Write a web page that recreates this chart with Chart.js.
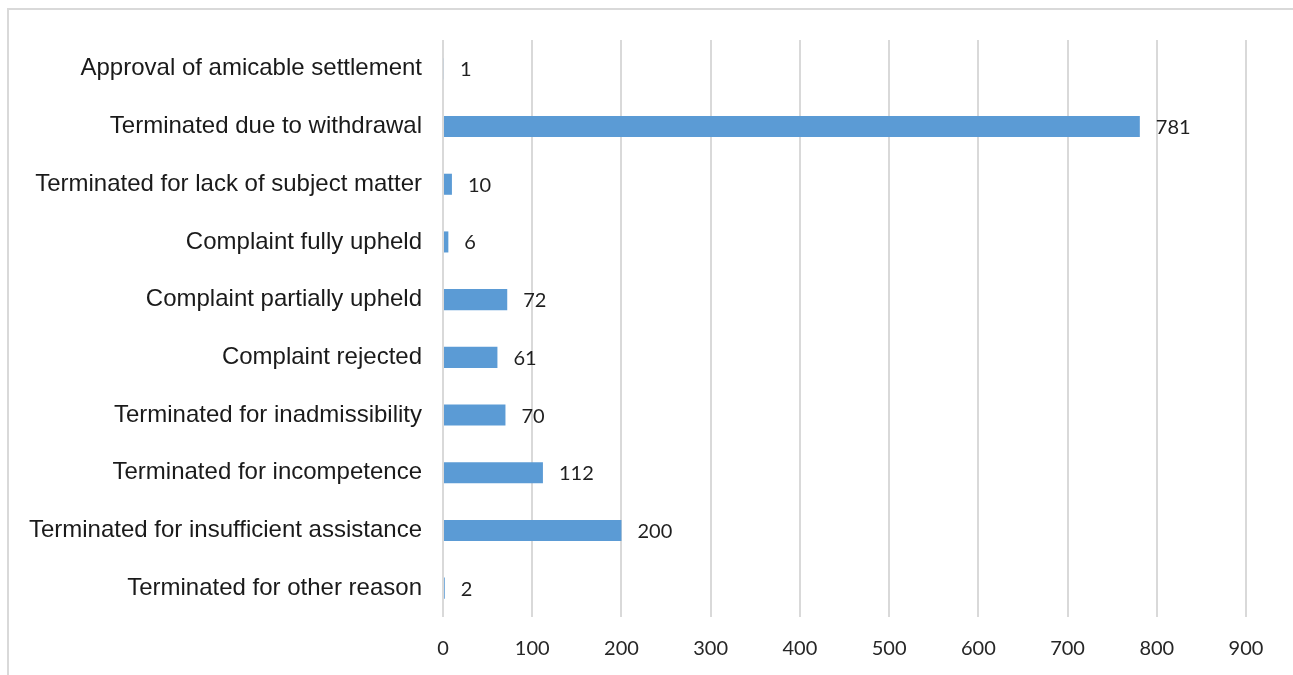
<!DOCTYPE html>
<html>
<head>
<meta charset="utf-8">
<script src="https://cdn.jsdelivr.net/npm/chart.js@4/dist/chart.umd.min.js"></script>
<style>
html,body{margin:0;padding:0;background:#fff;}
#wrap{position:relative;width:1293px;height:675px;}
</style>
</head>
<body>
<div id="wrap"><canvas id="c" width="1293" height="675"></canvas></div>
<script>
const categories = [
  "Approval of amicable settlement",
  "Terminated due to withdrawal",
  "Terminated for lack of subject matter",
  "Complaint fully upheld",
  "Complaint partially upheld",
  "Complaint rejected",
  "Terminated for inadmissibility",
  "Terminated for incompetence",
  "Terminated for insufficient assistance",
  "Terminated for other reason"
];
const values = [1, 781, 10, 6, 72, 61, 70, 112, 200, 2];
const xTicks = [0, 100, 200, 300, 400, 500, 600, 700, 800, 900];

const frame = {
  id: 'frame',
  beforeDraw(chart) {
    const ctx = chart.ctx;
    ctx.save();
    ctx.fillStyle = '#d9d9d9';
    ctx.fillRect(7, 8, 1293, 2);
    ctx.fillRect(7, 8, 2, 675);
    ctx.restore();
  }
};

const valueLabels = {
  id: 'valueLabels',
  afterDatasetsDraw(chart) {
    const ctx = chart.ctx;
    const meta = chart.getDatasetMeta(0);
    ctx.save();
    ctx.font = '20px Lato';
    ctx.fillStyle = '#1f1f1f';
    ctx.textAlign = 'left';
    ctx.textBaseline = 'middle';
    meta.data.forEach((bar, i) => {
      ctx.fillText(String(values[i]), bar.x + 16, bar.y + 1);
    });
    ctx.restore();
  }
};

new Chart(document.getElementById('c'), {
  type: 'bar',
  data: {
    labels: categories,
    datasets: [{
      data: values,
      backgroundColor: '#5b9bd5',
      borderWidth: 0,
      barPercentage: 1,
      categoryPercentage: 0.365
    }]
  },
  options: {
    indexAxis: 'y',
    responsive: false,
    animation: false,
    layout: { padding: { left: 0, right: 47, top: 40, bottom: 0 } },
    plugins: { legend: { display: false }, tooltip: { enabled: false } },
    scales: {
      x: {
        min: 0, max: 900,
        afterBuildTicks(scale) { scale.ticks = xTicks.map(v => ({ value: v })); },
        afterFit(scale) { scale.height = 58; },
        grid: { color: '#d9d9d9', lineWidth: 2, drawTicks: false },
        border: { display: false },
        ticks: { font: { family: 'Lato', size: 20 }, color: '#262626', padding: 20 }
      },
      y: {
        afterFit(scale) { scale.width = 443; },
        grid: { display: false, drawTicks: false },
        border: { display: false },
        ticks: { font: { family: 'Liberation Sans', size: 24 }, color: '#1a1a1a', padding: 21 }
      }
    }
  },
  plugins: [frame, valueLabels]
});
</script>
</body>
</html>
